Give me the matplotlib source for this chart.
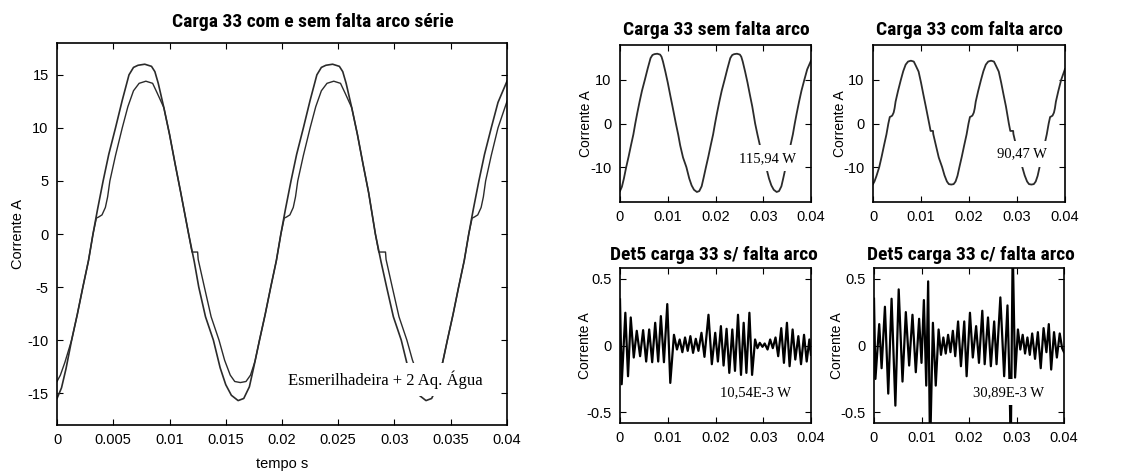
import matplotlib
matplotlib.use("Agg")
import matplotlib.pyplot as plt

# ---- load 33 current, without arc fault (s, A) ----
t_sem = [0.0, 0.0004, 0.0008, 0.0013, 0.0018, 0.0023, 0.0028, 0.0032, 0.0036, 0.0041,
         0.0046, 0.0052, 0.0058, 0.0064, 0.0068, 0.0072, 0.0078, 0.0084, 0.0087, 0.0090,
         0.0095, 0.0100, 0.0105, 0.0110, 0.0117, 0.0122, 0.0126, 0.0132, 0.0139, 0.0145,
         0.0150, 0.0155, 0.0161, 0.0166, 0.0171, 0.0175, 0.0180, 0.0185, 0.0190, 0.0195,
         0.0199, 0.0203, 0.0208, 0.0213, 0.0219, 0.0225, 0.0231, 0.0235, 0.0239, 0.0245,
         0.0251, 0.0254, 0.0257, 0.0262, 0.0267, 0.0272, 0.0277, 0.0283, 0.0288, 0.0293,
         0.0299, 0.0306, 0.0312, 0.0317, 0.0322, 0.0328, 0.0333, 0.0338, 0.0342, 0.0347,
         0.0352, 0.0357, 0.0362, 0.0366, 0.0370, 0.0375, 0.0380, 0.0386, 0.0392, 0.0400]
i_sem = [-15.5, -14.5, -12.7, -10.0, -7.6, -5.0, -2.5, 0.0, 2.3, 5.0,
         7.5, 10.0, 12.6, 15.0, 15.7, 15.9, 16.0, 15.8, 15.3, 14.2,
         11.9, 9.4, 6.6, 3.9, 0.0, -2.6, -5.0, -7.8, -10.0, -12.6,
         -14.2, -15.2, -15.7, -15.5, -14.4, -12.5, -10.0, -7.6, -5.0, -2.5,
         0.0, 2.3, 5.0, 7.5, 10.0, 12.6, 15.0, 15.7, 15.9, 16.0,
         15.8, 15.3, 14.2, 11.9, 9.4, 6.6, 3.9, 0.0, -2.6, -5.0,
         -7.8, -10.0, -12.6, -14.2, -15.2, -15.7, -15.5, -14.4, -12.5, -10.0,
         -7.6, -5.0, -2.5, 0.0, 2.3, 5.0, 7.5, 10.0, 12.4, 14.4]

# ---- load 33 current, with series arc fault (s, A) ----
t_com = [0.0, 0.0003, 0.0007, 0.0013, 0.0018, 0.0023, 0.0028, 0.0032, 0.0035, 0.0037,
         0.0040, 0.0043, 0.0045, 0.0047, 0.0052, 0.0058, 0.0063, 0.0068, 0.0073, 0.0079,
         0.0085, 0.0089, 0.0095, 0.0100, 0.0105, 0.0110, 0.0117, 0.0120, 0.0125, 0.01255,
         0.0131, 0.0137, 0.0144, 0.0149, 0.0154, 0.0158, 0.0163, 0.0168, 0.0172, 0.0176,
         0.0180, 0.0185, 0.0190, 0.0195, 0.0199, 0.0202, 0.0204, 0.0207, 0.0210, 0.0212,
         0.0214, 0.0219, 0.0225, 0.0230, 0.0235, 0.0240, 0.0246, 0.0252, 0.0256, 0.0262,
         0.0267, 0.0272, 0.0277, 0.0283, 0.0286, 0.0292, 0.02925, 0.0298, 0.0304, 0.0311,
         0.0316, 0.0321, 0.0325, 0.0330, 0.0335, 0.0339, 0.0343, 0.0347, 0.0352, 0.0357,
         0.0362, 0.0366, 0.0369, 0.0371, 0.0374, 0.0377, 0.0379, 0.0381, 0.0386, 0.0392,
         0.0400]
i_com = [-13.9, -13.3, -12.1, -10.0, -7.6, -5.0, -2.5, 0.0, 1.5, 1.6,
         1.8, 2.5, 3.5, 5.0, 7.4, 10.0, 12.0, 13.5, 14.2, 14.4,
         14.2, 13.3, 11.9, 9.4, 6.6, 3.9, 0.0, -1.7, -1.7, -2.4,
         -5.0, -7.8, -10.0, -11.9, -13.3, -13.9, -14.0, -13.9, -13.3, -12.0,
         -10.0, -7.6, -5.0, -2.5, 0.0, 1.5, 1.6, 1.8, 2.5, 3.5,
         5.0, 7.4, 10.0, 12.0, 13.5, 14.2, 14.4, 14.2, 13.3, 11.9,
         9.4, 6.6, 3.9, 0.0, -1.7, -1.7, -2.4, -5.0, -7.8, -10.0,
         -11.9, -13.3, -13.9, -14.0, -13.9, -13.3, -12.0, -10.0, -7.6, -5.0,
         -2.5, 0.0, 1.5, 1.6, 1.8, 2.5, 3.5, 5.0, 7.4, 10.0,
         12.5]

# ---- level-5 wavelet detail, without arc fault ----
t_det_sem = [0.0, 0.00035, 0.00112, 0.00168, 0.00225, 0.00288, 0.00351, 0.00421, 0.00484, 0.00548,
             0.00611, 0.00674, 0.00737, 0.0080, 0.00856, 0.0092, 0.0099, 0.01053, 0.0113, 0.01193,
             0.0125, 0.01306, 0.01362, 0.01418, 0.01474, 0.0153, 0.01587, 0.01643, 0.01706, 0.01769,
             0.01853, 0.01923, 0.01994, 0.0205, 0.02113, 0.02169, 0.02232, 0.02289, 0.02352, 0.02408,
             0.02471, 0.02534, 0.0259, 0.02647, 0.0271, 0.02766, 0.02829, 0.02878, 0.02927, 0.02984,
             0.0303, 0.0309, 0.03145, 0.032, 0.03257, 0.03313, 0.03377, 0.03433, 0.03496, 0.03552,
             0.03615, 0.03671, 0.03735, 0.03791, 0.03854, 0.0391, 0.03966, 0.0400]
d_sem = [0.345, -0.29, 0.245, -0.23, 0.21, -0.09, 0.11, -0.08, 0.115, -0.12,
         0.12, -0.125, 0.17, -0.12, 0.22, -0.125, 0.31, -0.28, 0.08, -0.03,
         0.045, -0.05, 0.06, -0.04, 0.07, -0.055, 0.05, -0.04, 0.095, -0.085,
         0.23, -0.14, 0.095, -0.12, 0.145, -0.15, 0.125, -0.205, 0.12, -0.19,
         0.23, -0.22, 0.17, -0.205, 0.245, -0.22, 0.045, -0.02, 0.02, -0.01,
         0.015, -0.03, 0.045, -0.02, 0.06, -0.08, 0.13, -0.13, 0.17, -0.155,
         0.12, -0.105, 0.07, -0.14, 0.08, -0.12, 0.045, -0.07]

# ---- level-5 wavelet detail, with arc fault ----
t_det_com = [0.0, 0.0003, 0.0011, 0.0016, 0.0023, 0.0030, 0.0037, 0.0045, 0.0052, 0.0060,
             0.0067, 0.0074, 0.0081, 0.0088, 0.0095, 0.0100, 0.0105, 0.0110, 0.0114, 0.0118,
             0.0124, 0.0130, 0.0136, 0.0141, 0.0146, 0.0151, 0.0156, 0.0161, 0.0166, 0.0171,
             0.0177, 0.0183, 0.0190, 0.0195, 0.0202, 0.0208, 0.0215, 0.0221, 0.0228, 0.0233,
             0.0240, 0.0246, 0.0253, 0.0258, 0.0266, 0.0274, 0.0281, 0.0285, 0.0288, 0.0292,
             0.0297, 0.0303, 0.0308, 0.0313, 0.0318, 0.0323, 0.0328, 0.0333, 0.0339, 0.0345,
             0.0351, 0.0357, 0.0363, 0.0368, 0.0373, 0.0379, 0.0385, 0.0391, 0.0396, 0.0400]
d_com = [0.35, -0.25, 0.16, -0.17, 0.29, -0.36, 0.35, -0.45, 0.42, -0.27,
         0.25, -0.15, 0.23, -0.20, 0.20, -0.13, 0.34, -0.30, 0.48, -0.80,
         0.17, -0.30, 0.12, -0.07, 0.06, -0.06, 0.08, -0.05, 0.11, -0.08,
         0.18, -0.155, 0.18, -0.23, 0.245, -0.09, 0.145, -0.13, 0.26, -0.14,
         0.21, -0.155, 0.18, -0.14, 0.36, -0.23, 0.30, -0.24, -0.75, 0.75,
         -0.24, 0.12, -0.03, 0.08, -0.06, 0.06, -0.07, 0.09, -0.10, 0.10,
         -0.17, 0.13, -0.05, 0.16, -0.18, 0.10, -0.09, 0.09, -0.02, -0.05]

sans = ["Liberation Sans", "DejaVu Sans"]
serif = ["Liberation Serif", "DejaVu Serif"]
heading = ["Roboto Condensed", "DejaVu Sans"]
line_col = "#2b2b2b"
box = dict(boxstyle="square,pad=0.45", facecolor="white", edgecolor="none")

plt.rcParams["font.family"] = sans

fig = plt.figure(figsize=(11.24, 4.76), dpi=100)
W, H = 1124.0, 476.0


def add_axes(left, top, right, bottom):
    return fig.add_axes([left / W, 1 - bottom / H, (right - left) / W, (bottom - top) / H])


def style(ax, xticks, yticks, ylim):
    ax.set_xlim(0, 0.04)
    ax.set_ylim(*ylim)
    ax.set_xticks(xticks)
    ax.set_xticklabels([f"{v:g}" for v in xticks])
    ax.set_yticks(yticks)
    ax.set_yticklabels([f"{v:g}" for v in yticks])
    ax.tick_params(direction="in", top=True, right=True, length=4, width=0.8,
                   labelsize=10.5, pad=6, colors="black")
    for sp in ax.spines.values():
        sp.set_linewidth(1.2)


def title(x, y, s):
    fig.text(x / W, 1 - y / H, s, family=heading, weight="bold",
             fontsize=14, ha="center", va="center")


# main comparison panel
ax = add_axes(57, 43, 507, 425)
ax.plot(t_sem, i_sem, color=line_col, lw=1.2)
ax.plot(t_com, i_com, color=line_col, lw=1.0)
style(ax, [0, 0.005, 0.01, 0.015, 0.02, 0.025, 0.03, 0.035, 0.04],
      [-15, -10, -5, 0, 5, 10, 15], (-18, 18))
ax.set_ylabel("Corrente A", fontsize=10.5)
ax.yaxis.set_label_coords(-0.071, 0.5)
ax.set_xlabel("tempo s", fontsize=10.5)
ax.xaxis.set_label_coords(0.5, -0.084)
ax.text(0.0292, -13.7, "Esmerilhadeira + 2 Aq. Água", family=serif, fontsize=12,
        ha="center", va="center", bbox=box, zorder=5)
title(313, 22, "Carga 33 com e sem falta arco série")

# current without fault
ax1 = add_axes(620, 45, 811, 202)
ax1.plot(t_sem, i_sem, color=line_col, lw=1.3)
style(ax1, [0, 0.01, 0.02, 0.03, 0.04], [-10, 0, 10], (-18, 18))
ax1.set_ylabel("Corrente A", fontsize=10)
ax1.yaxis.set_label_coords(-0.141, 0.5)
ax1.text(0.0309, -8.0, "115,94 W", family=serif, fontsize=10.5, ha="center", va="center",
         bbox=box, zorder=5)
title(716, 30, "Carga 33 sem falta arco")

# current with fault
ax2 = add_axes(873, 45, 1065, 202)
ax2.plot(t_com, i_com, color=line_col, lw=1.3)
style(ax2, [0, 0.01, 0.02, 0.03, 0.04], [-10, 0, 10], (-18, 18))
ax2.set_ylabel("Corrente A", fontsize=10)
ax2.yaxis.set_label_coords(-0.135, 0.5)
ax2.text(0.031, -7.0, "90,47 W", family=serif, fontsize=10.5, ha="center", va="center",
         bbox=box, zorder=5)
title(969, 30, "Carga 33 com falta arco")

# detail coefficients without fault
ax3 = add_axes(620, 268, 811, 423)
ax3.plot(t_det_sem, d_sem, color="black", lw=1.6, solid_joinstyle="round")
style(ax3, [0, 0.01, 0.02, 0.03, 0.04], [-0.5, 0, 0.5], (-0.58, 0.58))
ax3.set_ylabel("Corrente A", fontsize=10)
ax3.yaxis.set_label_coords(-0.147, 0.5)
ax3.text(0.0283, -0.35, "10,54E-3 W", family=serif, fontsize=10.5, ha="center", va="center",
         bbox=box, zorder=5)
title(714, 255, "Det5 carga 33 s/ falta arco")

# detail coefficients with fault
ax4 = add_axes(874, 268, 1064, 423)
ax4.plot(t_det_com, d_com, color="black", lw=1.6, solid_joinstyle="round")
style(ax4, [0, 0.01, 0.02, 0.03, 0.04], [-0.5, 0, 0.5], (-0.58, 0.58))
ax4.set_ylabel("Corrente A", fontsize=10)
ax4.yaxis.set_label_coords(-0.158, 0.5)
ax4.text(0.0283, -0.35, "30,89E-3 W", family=serif, fontsize=10.5, ha="center", va="center",
         bbox=box, zorder=5)
title(971, 255, "Det5 carga 33 c/ falta arco")

fig.savefig("out.png", dpi=100)
